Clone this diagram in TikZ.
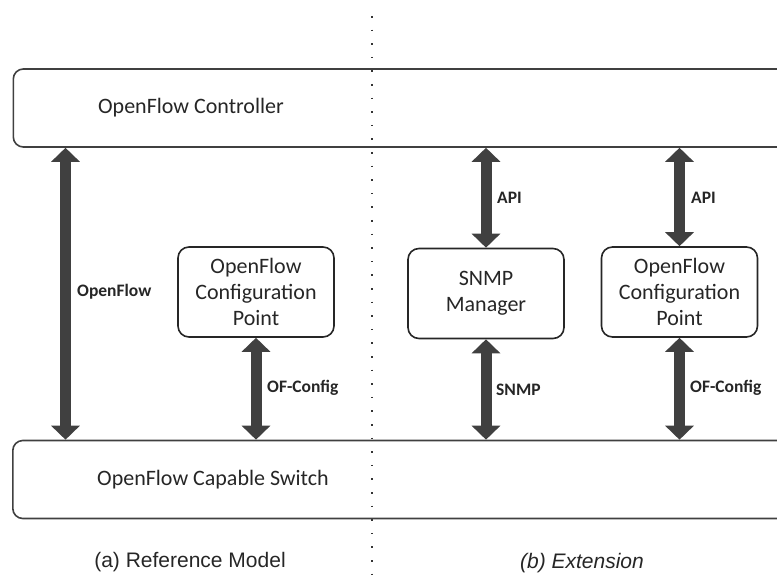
\documentclass[tikz,border=0pt]{standalone}
\usepackage{fontspec}
\setmainfont{Carlito}
\newfontfamily\capfont{Liberation Sans}
\usetikzlibrary{arrows.meta}
\definecolor{arrowgray}{HTML}{404040}
\definecolor{txt}{HTML}{262626}
\tikzset{
 bigbox/.style={draw=black!75, line width=1.6pt, rounded corners=10pt, minimum width=790pt, minimum height=78pt, inner sep=0pt, anchor=west},
 smallbox/.style={draw=black!85, line width=1.6pt, rounded corners=11pt, minimum width=156pt, minimum height=90pt, inner sep=0pt, align=center, font=\fontsize{22}{26}\selectfont, text=txt},
 boxtext/.style={font=\fontsize{22}{26}\selectfont, text=txt, inner sep=0pt},
 lbl/.style={font=\bfseries\fontsize{17.5}{20}\selectfont, text=txt, anchor=west, inner sep=0pt},
 captext/.style={font=\capfont\fontsize{21}{24}\selectfont, text=txt, inner sep=0pt},
 bigarrow/.style={draw=arrowgray, line width=11pt, {Triangle[width=28pt,length=14pt]}-{Triangle[width=28pt,length=14pt]}},
 divider/.style={draw=black!80, line width=1.6pt, dash pattern=on 1.6pt off 12pt}
}
\begin{document}
\begin{tikzpicture}[x=1pt,y=-1pt]
\useasboundingbox (0,0) rectangle (777,575);
\clip (0,0) rectangle (777,575);
% divider
\coordinate (dtop) at (372,16);
\coordinate (dbot) at (372,580);
\draw[divider] (dtop) -- (dbot);
% big boxes
\node[bigbox] (ctrl) at (12.5,108) {};
\node[bigbox] (sw) at (12,479.5) {};
\node[boxtext] (ctrlt) at (191,108) {OpenFlow Controller};
\node[boxtext] (swt) at (213,480) {OpenFlow Capable Switch};
% small boxes
\node[smallbox] (ofp1) at (256,292) {OpenFlow\\Configuration\\Point};
\node[smallbox] (snmp) at (486,293.5) {SNMP\\Manager};
\node[smallbox] (ofp2) at (679.5,292) {OpenFlow\\Configuration\\Point};
% arrows
\coordinate (lx) at (65.5,300);
\draw[bigarrow] (ctrl.south -| lx) -- (sw.north -| lx);
\draw[bigarrow] (ofp1.south) -- (sw.north -| ofp1.south);
\draw[bigarrow] (ctrl.south -| snmp.north) -- (snmp.north);
\draw[bigarrow] (snmp.south) -- (sw.north -| snmp.south);
\draw[bigarrow] (ctrl.south -| ofp2.north) -- (ofp2.north);
\draw[bigarrow] (ofp2.south) -- (sw.north -| ofp2.south);
% labels
\node[lbl] (l1) at (77,292) {OpenFlow};
\node[lbl] (l2) at (267,388) {OF-Config};
\node[lbl] (l3) at (497,198) {API};
\node[lbl] (l4) at (691,198) {API};
\node[lbl] (l5) at (496,390) {SNMP};
\node[lbl] (l6) at (690,388) {OF-Config};
% captions
\node[captext] (capa) at (190,562) {(a) Reference Model};
\node[captext] (capb) at (582,563) {\itshape (b) Extension};
\end{tikzpicture}
\end{document}
